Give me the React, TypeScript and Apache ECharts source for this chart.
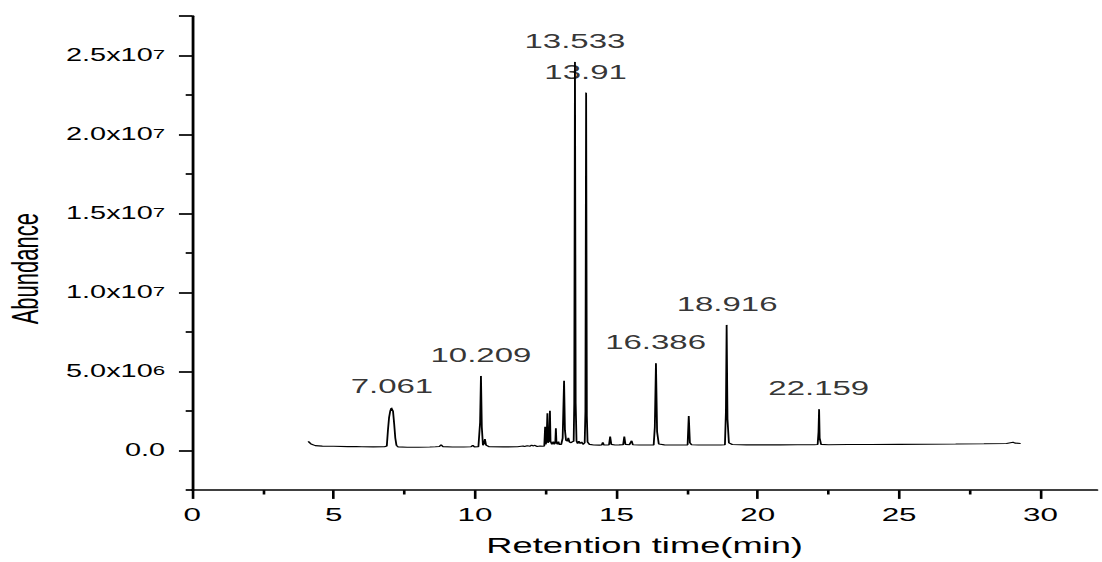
import React, { useEffect, useRef } from 'react';
import * as echarts from 'echarts';

// The reference is horizontally stretched; the chart is drawn narrower and widened with a CSS scaleX.
const STRETCH = 1.65;
const PAGE_W = 1102;
const PAGE_H = 562;
const FONT = '"Liberation Sans", Arial, sans-serif';

const xMin = 0;
const xMax = 32;
const yMin = -2.5e6;
const yMax = 2.75e7;

const xMajorTicks = [0, 5, 10, 15, 20, 25, 30];
const xMinorTicks = [2.5, 7.5, 12.5, 17.5, 22.5, 27.5];
const yLabelTicks = [0, 5e6, 1e7, 1.5e7, 2e7, 2.5e7];
const yMajorTicks = [0, 5e6, 1e7, 1.5e7, 2e7, 2.5e7, 2.75e7];
const yMinorTicks = [-2.5e6, 2.5e6, 7.5e6, 1.25e7, 1.75e7, 2.25e7];
const yTickMantissa = ['0.0', '5.0', '1.0', '1.5', '2.0', '2.5'];
const yTickExponent = ['', '6', '7', '7', '7', '7'];

const retentionTime = [
  4.1, 4.2, 4.35, 4.6, 5.0, 5.5, 5.8, 6.0, 6.4, 6.8,
  6.88, 6.92, 6.96, 7.0, 7.04, 7.07, 7.1, 7.14, 7.18, 7.22, 7.28,
  7.6, 8.0, 8.4, 8.6, 8.74, 8.8, 8.86, 9.2, 9.6, 9.86, 9.92, 9.98,
  10.12, 10.18, 10.21, 10.24, 10.28, 10.32, 10.35, 10.39, 10.5,
  11.0, 11.5, 11.7, 11.75, 11.85, 11.95, 12.0, 12.05, 12.1, 12.2, 12.3, 12.4,
  12.45, 12.48, 12.5, 12.53, 12.56, 12.58, 12.62, 12.65, 12.67, 12.72, 12.77, 12.8,
  12.84, 12.86, 12.88, 12.92, 12.95, 12.98, 13.05, 13.1, 13.15, 13.18, 13.22, 13.27,
  13.3, 13.34, 13.4, 13.44, 13.49, 13.51, 13.535, 13.56, 13.59, 13.63, 13.67, 13.72,
  13.77, 13.82, 13.88, 13.905, 13.93, 13.955, 13.98, 14.05, 14.2, 14.4, 14.48, 14.52,
  14.56, 14.7, 14.74, 14.78, 14.82, 14.95, 15.1, 15.24, 15.28, 15.32, 15.46, 15.54,
  15.58, 15.8, 16.1, 16.32, 16.36, 16.4, 16.44, 16.5, 16.7, 17.0, 17.4, 17.52,
  17.56, 17.6, 17.66, 17.9, 18.3, 18.7, 18.84, 18.875, 18.9, 18.93, 18.98, 19.1,
  19.6, 20.2, 20.8, 21.4, 22.0, 22.12, 22.15, 22.17, 22.19, 22.24, 22.5, 23.2,
  24.0, 25.0, 26.0, 27.0, 28.0, 28.8, 29.03, 29.1, 29.3,
];

const abundance = [
  5.9e5, 4.2e5, 3.2e5, 2.9e5, 2.8e5, 2.6e5, 2.7e5, 2.5e5, 2.4e5, 2.5e5,
  3.0e5, 1.3e6, 2.1e6, 2.5e6, 2.7e6, 2.72e6, 2.5e6, 1.7e6, 8.0e5, 3.5e5, 2.4e5,
  2.2e5, 2.2e5, 2.3e5, 2.5e5, 2.7e5, 3.8e5, 2.6e5, 2.3e5, 2.3e5, 2.5e5, 3.4e5, 2.4e5,
  2.5e5, 1.8e6, 4.72e6, 1.5e6, 3.5e5, 4.5e5, 7.4e5, 3.5e5, 2.5e5,
  2.4e5, 2.5e5, 3.0e5, 2.6e5, 3.2e5, 2.8e5, 3.6e5, 3.0e5, 3.4e5, 2.7e5, 3.0e5, 2.8e5,
  3.0e5, 1.52e6, 4.0e5, 6.0e5, 2.37e6, 5.0e5, 6.0e5, 2.53e6, 6.0e5, 4.0e5, 5.7e5, 4.0e5,
  5.0e5, 1.42e6, 5.0e5, 4.0e5, 5.7e5, 4.0e5, 4.0e5, 8.0e5, 4.43e6, 1.3e6, 6.5e5, 6.0e5,
  8.2e5, 5.5e5, 5.0e5, 5.7e5, 6.0e5, 3.0e6, 2.46e7, 3.0e6, 6.0e5, 4.5e5, 6.0e5, 4.5e5,
  5.5e5, 4.0e5, 5.0e5, 2.5e6, 2.265e7, 2.2e6, 5.5e5, 4.0e5, 3.6e5, 3.5e5, 3.6e5, 5.3e5,
  3.6e5, 3.6e5, 3.8e5, 8.9e5, 4.0e5, 3.6e5, 3.7e5, 3.8e5, 9.0e5, 4.0e5, 3.8e5, 6.3e5,
  3.8e5, 3.6e5, 3.6e5, 3.7e5, 1.5e6, 5.53e6, 1.2e6, 4.2e5, 3.7e5, 3.6e5, 3.6e5, 3.7e5,
  2.2e6, 5.0e5, 3.8e5, 3.6e5, 3.6e5, 3.6e5, 3.8e5, 2.5e6, 7.96e6, 2.0e6, 5.0e5, 3.9e5,
  3.7e5, 3.7e5, 3.7e5, 3.8e5, 3.8e5, 3.9e5, 1.2e6, 2.62e6, 8.0e5, 4.0e5, 3.8e5, 3.9e5,
  3.9e5, 4.0e5, 4.1e5, 4.2e5, 4.4e5, 4.6e5, 5.3e5, 4.8e5, 4.6e5,
];

const peakTimes = [7.061, 10.209, 13.533, 13.91, 16.386, 18.916, 22.159];
const peakAbundance = [2.72e6, 4.72e6, 2.46e7, 2.265e7, 5.53e6, 7.96e6, 2.62e6];
const peakLabels = ['7.061', '10.209', '13.533', '13.91', '16.386', '18.916', '22.159'];

const xAxisName = 'Retention time(min)';
const yAxisName = 'Abundance';

function yLabel(value: number): string {
  const i = yLabelTicks.findIndex((v) => Math.abs(v - value) < 1);
  if (i < 0) return '';
  const exp = yTickExponent[i];
  return exp ? `{m|${yTickMantissa[i]}x10}{s|${exp}}` : `{m|${yTickMantissa[i]}}`;
}

export default function App() {
  const ref = useRef<HTMLDivElement>(null);

  useEffect(() => {
    if (!ref.current) return;
    const chart = echarts.init(ref.current, null, { renderer: 'svg' });
    const S = STRETCH;
    const gridLeft = 192.3 / S;
    const gridWidth = (1097 - 192.3) / S;

    const axisLine = { show: true, onZero: false, lineStyle: { color: '#000', width: 1.7 } };

    chart.setOption({
      animation: false,
      backgroundColor: '#fff',
      grid: {
        left: gridLeft,
        width: gridWidth,
        top: 16.2,
        height: 474,
        containLabel: false,
        outerBoundsMode: 'none',
      },
      xAxis: [
        {
          type: 'value',
          position: 'bottom',
          min: xMin,
          max: xMax,
          axisLine,
          splitLine: { show: false },
          axisTick: {
            show: true,
            inside: false,
            length: 8.7,
            customValues: xMajorTicks,
            lineStyle: { color: '#000', width: 1.6 },
          },
          axisLabel: {
            show: true,
            customValues: xMajorTicks,
            margin: 15,
            color: '#000',
            fontSize: 19,
            fontFamily: FONT,
            formatter: (v: number) => String(v),
          },
          name: xAxisName,
          nameLocation: 'middle',
          nameGap: 44,
          nameTextStyle: { color: '#000', fontSize: 22, fontFamily: FONT },
        },
        {
          type: 'value',
          position: 'bottom',
          min: xMin,
          max: xMax,
          axisLine: { show: false, onZero: false },
          splitLine: { show: false },
          axisTick: {
            show: true,
            length: 4.3,
            customValues: xMinorTicks,
            lineStyle: { color: '#000', width: 1.6 },
          },
          axisLabel: { show: false },
        },
      ],
      yAxis: [
        {
          type: 'value',
          position: 'left',
          min: yMin,
          max: yMax,
          axisLine,
          splitLine: { show: false },
          axisTick: {
            show: true,
            length: 8.1,
            customValues: yMajorTicks,
            lineStyle: { color: '#000', width: 1.7 },
          },
          axisLabel: {
            show: true,
            customValues: yLabelTicks,
            margin: 16.5,
            formatter: yLabel,
            rich: {
              m: {
                fontSize: 17.5,
                lineHeight: 17,
                fontFamily: FONT,
                color: '#000',
                verticalAlign: 'bottom',
              },
              s: {
                fontSize: 13.5,
                lineHeight: 13,
                fontFamily: FONT,
                color: '#000',
                verticalAlign: 'top',
                padding: [0, 0, 11, 0],
              },
            },
          },
          name: yAxisName,
          nameLocation: 'middle',
          nameGap: 90.5,
          nameTextStyle: { color: '#000', fontSize: 22, fontFamily: FONT, padding: [0, 31, 0, 0] },
        },
        {
          type: 'value',
          position: 'left',
          min: yMin,
          max: yMax,
          axisLine: { show: false, onZero: false },
          splitLine: { show: false },
          axisTick: {
            show: true,
            length: 4,
            customValues: yMinorTicks,
            lineStyle: { color: '#000', width: 1.7 },
          },
          axisLabel: { show: false },
        },
      ],
      series: [
        {
          type: 'line',
          xAxisIndex: 0,
          yAxisIndex: 0,
          data: retentionTime.map((t, i) => [t, abundance[i]]),
          showSymbol: false,
          symbol: 'none',
          lineStyle: { color: '#000', width: 1.1 },
          silent: true,
        },
        {
          type: 'scatter',
          xAxisIndex: 0,
          yAxisIndex: 0,
          silent: true,
          symbol: 'circle',
          symbolSize: 0.5,
          itemStyle: { color: '#000' },
          data: peakTimes.map((t, i) => ({ value: [t, peakAbundance[i]], name: peakLabels[i] })),
          label: {
            show: true,
            position: 'top',
            distance: 11,
            formatter: '{b}',
            color: '#000',
            fontSize: 20,
            fontFamily: FONT,
          },
        },
      ],
    });

    return () => chart.dispose();
  }, []);

  return (
    <div
      style={{
        position: 'fixed',
        left: 0,
        top: 0,
        width: PAGE_W,
        height: PAGE_H,
        overflow: 'hidden',
        background: '#fff',
      }}
    >
      <div
        ref={ref}
        style={{
          width: PAGE_W / STRETCH,
          height: PAGE_H,
          transform: `scaleX(${STRETCH})`,
          transformOrigin: '0 0',
        }}
      />
    </div>
  );
}
